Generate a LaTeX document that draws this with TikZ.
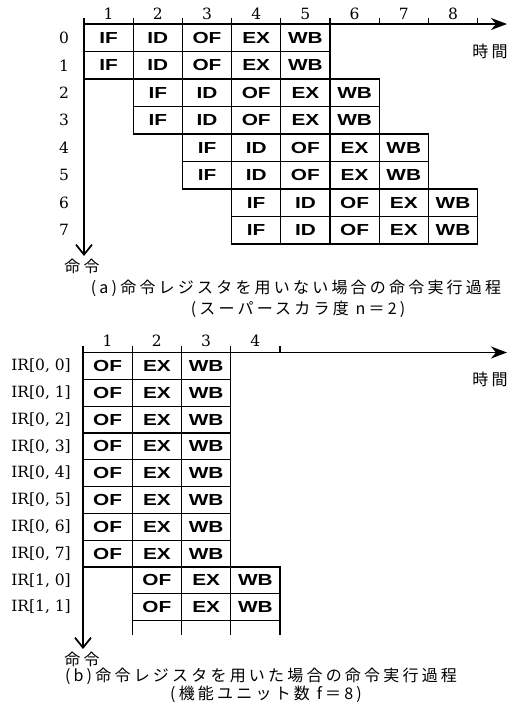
\documentclass[tikz,border=0pt]{standalone}
\usepackage{fontspec}
\usetikzlibrary{arrows.meta}
\newfontfamily\jpfont{Noto Sans CJK JP}[LetterSpace=20]
\newfontfamily\numfont{DejaVu Serif}
\newfontfamily\cellfont{Liberation Sans}[FakeStretch=1.3]
\begin{document}
\begin{tikzpicture}[x=1pt,y=-1pt,
  cell/.style={draw, line width=1.2pt, inner sep=0pt, outer sep=0pt,
    font=\cellfont\bfseries\fontsize{16}{16}\selectfont},
  acell/.style={cell, minimum width=49.2pt, minimum height=27.5pt},
  bcell/.style={cell, minimum width=49.25pt, minimum height=26.8pt},
  axisline/.style={line width=1.7pt},
  tickline/.style={line width=1.3pt},
  gridline/.style={line width=1.2pt},
  lab/.style={font=\numfont\fontsize{15.5}{15.5}\selectfont, inner sep=0pt},
  jp/.style={font=\jpfont\fontsize{16}{16}\selectfont, inner sep=0pt},
  harrow/.style={axisline, -{Stealth[length=16pt, width=12pt, inset=5pt]}},
  varrow/.style={axisline, -{Straight Barb[length=10pt, width=16pt]}},
]
\useasboundingbox (0,0) rectangle (513,710);

% ---------------- part (a) ----------------
\def\ax{84}\def\aw{49.2}\def\ay{24}\def\ah{27.5}
\foreach \r in {0,...,7}{
  \pgfmathtruncatemacro{\sh}{int(\r/2)}
  \node[lab] (ar\r) at (64, {\ay+(\r+0.5)*\ah}) {\r};
  \foreach \st [count=\k from 0] in {IF,ID,OF,EX,WB}{
    \node[acell] (a\r-\k) at ({\ax+(\sh+\k+0.5)*\aw}, {\ay+(\r+0.5)*\ah}) {\st};
  }
}
\foreach \c in {1,...,8}
  \node[lab] (ac\c) at ({\ax+(\c-0.5)*\aw}, 14) {\c};
\foreach \c in {0,...,8}
  \draw[tickline] ({\ax+\c*\aw},18) -- ({\ax+\c*\aw},\ay);
\coordinate (aO) at (\ax,\ay);
\coordinate (aT) at (507,\ay);
\coordinate (aTop) at (\ax,18);
\coordinate (aB) at (\ax,256);
\draw[harrow] (aO) -- (aT);
\draw[varrow] (aTop) -- (aB);
\node[jp] (atime) at (490,51) {時間};
\node[jp] (ainst) at (82,266) {命令};
\node[jp] (acap1) at (296,288) {(a)命令レジスタを用いない場合の命令実行過程};
\node[jp] (acap2) at (298,309) {(スーパースカラ度 n＝2)};

% ---------------- part (b) ----------------
\def\bx{83}\def\bw{49.25}\def\by{352.5}\def\bh{26.8}
\foreach \r in {0,...,7}{
  \node[lab, anchor=east] (bl\r) at (71, {\by+(\r+0.5)*\bh}) {IR[0, \r]};
  \foreach \st [count=\k from 0] in {OF,EX,WB}{
    \node[bcell] (b\r-\k) at ({\bx+(\k+0.5)*\bw}, {\by+(\r+0.5)*\bh}) {\st};
  }
}
\foreach \r [count=\i from 8] in {0,1}{
  \node[lab, anchor=east] (bl\i) at (71, {\by+(\i+0.5)*\bh}) {IR[1, \r]};
  \foreach \st [count=\k from 1] in {OF,EX,WB}{
    \node[bcell] (b\i-\k) at ({\bx+(\k+0.5)*\bw}, {\by+(\i+0.5)*\bh}) {\st};
  }
}
\draw[gridline] (b9-1.south west) -- ++(0,14);
\draw[gridline] (b9-2.south west) -- ++(0,14);
\draw[gridline] (b9-3.south west) -- ++(0,14);
\draw[gridline] (b9-3.south east) -- ++(0,14);
\foreach \c in {1,...,4}
  \node[lab] (bc\c) at ({\bx+(\c-0.5)*\bw}, 341) {\c};
\foreach \c in {0,...,4}
  \draw[tickline] ({\bx+\c*\bw},346) -- ({\bx+\c*\bw},\by);
\coordinate (bO) at (\bx,\by);
\coordinate (bT) at (507,\by);
\coordinate (bTop) at (\bx,346);
\coordinate (bB) at (\bx,649);
\draw[harrow] (bO) -- (bT);
\draw[varrow] (bTop) -- (bB);
\node[jp] (btime) at (490,379) {時間};
\node[jp] (binst) at (82,659) {命令};
\node[jp] (bcap1) at (261,676) {(b)命令レジスタを用いた場合の命令実行過程};
\node[jp] (bcap2) at (266,694) {(機能ユニット数 f＝8)};
\end{tikzpicture}
\end{document}
